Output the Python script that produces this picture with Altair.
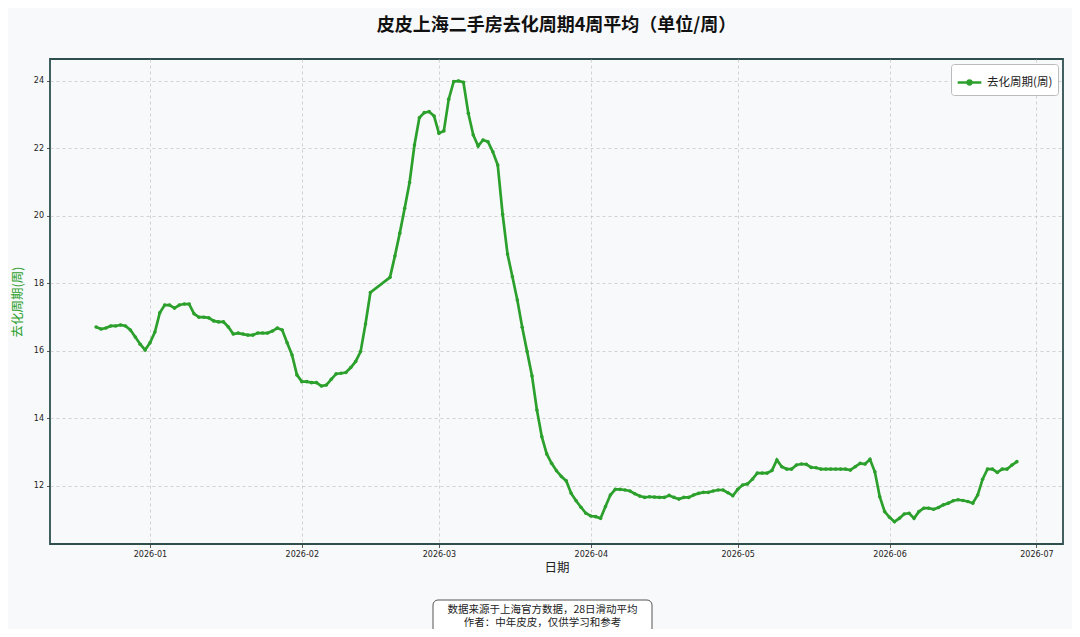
import altair as alt
import pandas as pd

GREEN = "#2ca02c"
BG = "#f8f9fa"
SERIES = "去化周期(周)"
TITLE = "皮皮上海二手房去化周期4周平均（单位/周）"
NOTE_1 = "数据来源于上海官方数据，28日滑动平均"
NOTE_2 = "作者：中年皮皮，仅供学习和参考"

# daily values (weeks)
dec_vals = [16.71, 16.65, 16.68, 16.74, 16.74, 16.77, 16.74, 16.62, 16.41, 16.20, 16.03]
jan_vals = [16.24, 16.56, 17.13, 17.36, 17.36, 17.27, 17.36, 17.39, 17.39, 17.10,
            17.00, 17.00, 16.98, 16.89, 16.86, 16.86, 16.71, 16.50, 16.53, 16.50,
            16.47, 16.47, 16.53, 16.53, 16.53, 16.59, 16.68, 16.62, 16.24, 15.88, 15.29]
feb_a_vals = [15.09, 15.09, 15.06, 15.06, 14.96, 14.99, 15.16, 15.32, 15.34, 15.36,
              15.51, 15.69, 15.98, 16.80, 17.73]
feb_b_vals = [18.18, 18.81, 19.49, 20.23, 20.99, 22.10, 22.91, 23.06, 23.09, 22.96]
mar_vals = [22.45, 22.52, 23.46, 23.98, 24.00, 23.96, 23.04, 22.40, 22.07, 22.25,
            22.20, 21.90, 21.51, 20.05, 18.87, 18.20, 17.51, 16.70, 15.98, 15.26,
            14.25, 13.46, 12.95, 12.67, 12.45, 12.28, 12.15, 11.78, 11.56, 11.37, 11.19]
apr_vals = [11.11, 11.09, 11.04, 11.39, 11.73, 11.90, 11.90, 11.88, 11.85, 11.77,
            11.70, 11.66, 11.68, 11.67, 11.66, 11.66, 11.72, 11.66, 11.61, 11.66,
            11.66, 11.73, 11.78, 11.81, 11.81, 11.85, 11.88, 11.88, 11.80, 11.71]
may_vals = [11.90, 12.03, 12.06, 12.20, 12.38, 12.38, 12.38, 12.46, 12.77, 12.57,
            12.50, 12.50, 12.62, 12.65, 12.64, 12.55, 12.54, 12.50, 12.50, 12.50,
            12.50, 12.50, 12.50, 12.47, 12.57, 12.67, 12.65, 12.79, 12.42, 11.68, 11.24]
jun_vals = [11.07, 10.94, 11.04, 11.17, 11.19, 11.04, 11.24, 11.34, 11.34, 11.31,
            11.36, 11.44, 11.49, 11.56, 11.59, 11.57, 11.54, 11.49, 11.73, 12.20,
            12.50, 12.50, 12.40, 12.50, 12.50, 12.62, 12.72]

segments = [
    ("2025-12-21", dec_vals),
    ("2026-01-01", jan_vals),
    ("2026-02-01", feb_a_vals),
    ("2026-02-19", feb_b_vals),
    ("2026-03-01", mar_vals),
    ("2026-04-01", apr_vals),
    ("2026-05-01", may_vals),
    ("2026-06-01", jun_vals),
]

rows = []
for start, vals in segments:
    for d, v in zip(pd.date_range(start, periods=len(vals), freq="D"), vals):
        rows.append({"date": d.strftime("%Y-%m-%dT00:00:00"), "value": v, "series": SERIES})
df = pd.DataFrame(rows)

x_ticks = [alt.DateTime(year=2026, month=m, date=1) for m in range(1, 8)]
y_ticks = [12, 14, 16, 18, 20, 22, 24]

W, H = 1013, 485

line = alt.Chart(df).mark_line(
    strokeWidth=2.7,
    point=alt.OverlayMarkDef(filled=True, size=13),
).encode(
    x=alt.X(
        "date:T",
        scale=alt.Scale(
            domain=[alt.DateTime(year=2025, month=12, date=11, hours=14),
                    alt.DateTime(year=2026, month=7, date=6, hours=10)],
            nice=False,
        ),
        axis=alt.Axis(
            values=x_ticks, format="%Y-%m", title="日期",
            titleFontSize=12.5, titleColor="#222", labelPadding=3, titlePadding=3,
        ),
    ),
    y=alt.Y(
        "value:Q",
        scale=alt.Scale(domain=[10.28, 24.65], nice=False, zero=False),
        axis=alt.Axis(
            values=y_ticks, title="去化周期(周)", titleColor=GREEN,
            titleFontSize=12.5, labelPadding=3, titlePadding=9,
        ),
    ),
    color=alt.Color(
        "series:N",
        scale=alt.Scale(domain=[SERIES], range=[GREEN]),
        legend=alt.Legend(
            title=None, orient="top-right", offset=5, padding=5,
            fillColor="white", strokeColor="#bbbbbb", cornerRadius=3,
            labelFont="Noto Sans CJK SC", labelFontSize=11.5, labelColor="#222",
            symbolType="M-1,0H1M-0.16,0a0.16,0.16 0 1,0 0.32,0a0.16,0.16 0 1,0 -0.32,0",
            symbolSize=560, symbolStrokeWidth=2.5,
            symbolStrokeColor=GREEN, symbolFillColor=GREEN,
        ),
    ),
)

note_df = pd.DataFrame({"l1": [NOTE_1], "l2": [NOTE_2]})
note_box = alt.Chart(note_df).mark_rect(
    cornerRadius=5, fill="white", stroke="#555555", strokeWidth=1,
).encode(
    x=alt.value(383), x2=alt.value(602), y=alt.value(541), y2=alt.value(600),
)
note_text_1 = alt.Chart(note_df).mark_text(
    baseline="middle", align="center",
    font="Noto Sans CJK SC", fontSize=10.5, color="#222",
).encode(
    x=alt.value(492.5), y=alt.value(551), text="l1:N",
)
note_text_2 = alt.Chart(note_df).mark_text(
    baseline="middle", align="center",
    font="Noto Sans CJK SC", fontSize=10.5, color="#222",
).encode(
    x=alt.value(492.5), y=alt.value(564), text="l2:N",
)

chart = alt.layer(line, note_box, note_text_1, note_text_2).properties(
    width=W, height=H,
    autosize=alt.AutoSizeParams(type="none"),
    padding={"left": 42, "top": 51, "right": 9, "bottom": 85},
    background=BG,
    title=alt.TitleParams(
        TITLE, font="Noto Sans CJK SC", fontSize=18, fontWeight="bold",
        color="#111", anchor="middle", frame="group", offset=24,
    ),
).configure_view(
    stroke="#2f4f4f", strokeWidth=1.8, fill=BG,
).configure_axis(
    domain=False, grid=True, gridColor="#c8c8c8", gridDash=[3, 3], gridWidth=0.8,
    tickColor="#333", tickSize=3.5, tickWidth=0.8,
    labelColor="#222", labelFont="DejaVu Sans", labelFontSize=8,
    titleFont="Noto Sans CJK SC", titleFontWeight="normal",
)

chart.save("out.html", embed_options={"renderer": "svg", "actions": False})
